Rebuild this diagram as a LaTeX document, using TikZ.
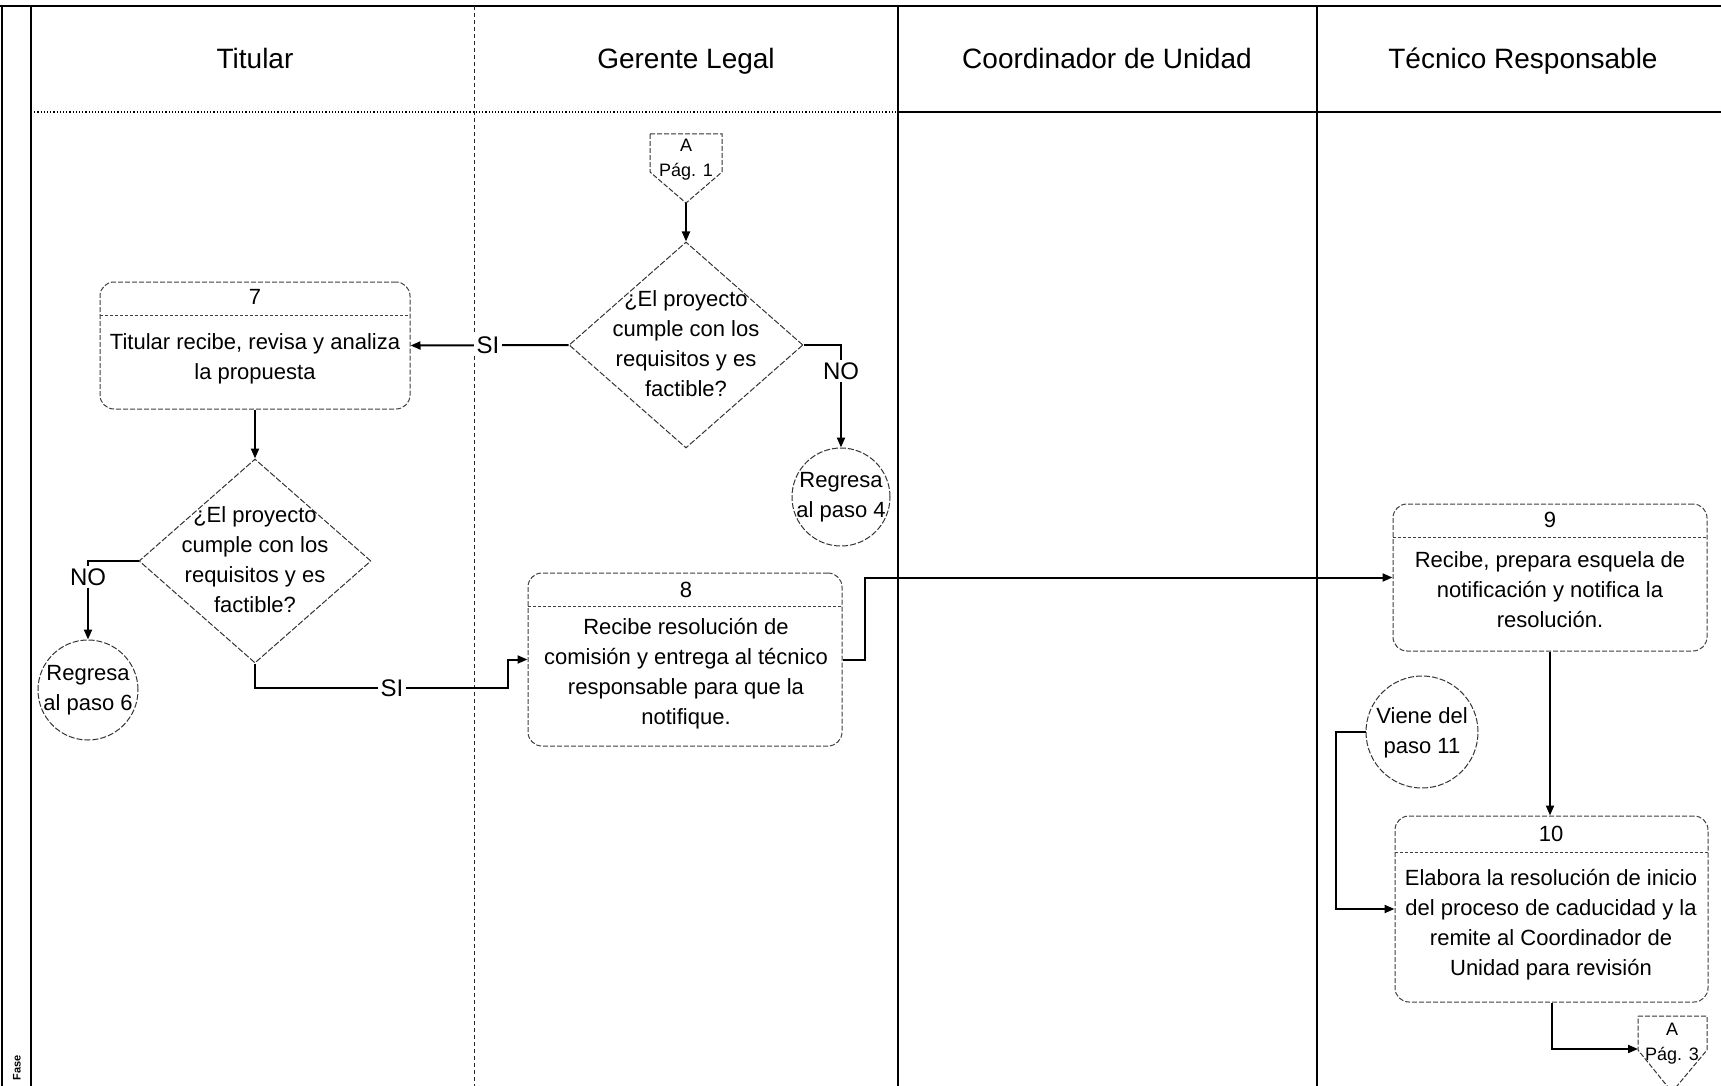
\documentclass[tikz,border=0pt]{standalone}
\usepackage{fontspec}
\setmainfont{Liberation Sans}
\usetikzlibrary{shapes.geometric,arrows.meta,fit}

\begin{document}
\begin{tikzpicture}[x=0.5pt,y=-0.5pt,
  lane/.style={line width=0.6pt},
  frameline/.style={line width=1.4pt},
  stepbox/.style={draw=black!75, dash pattern=on 2.5pt off 1pt, line width=0.5pt, rounded corners=7pt, inner sep=0pt},
  sepline/.style={draw=black!75, dash pattern=on 1.5pt off 1pt, line width=0.5pt},
  decision/.style={diamond, draw=black!80, dash pattern=on 3pt off 1pt, line width=0.5pt, inner sep=0pt},
  refcircle/.style={circle, draw=black!80, dash pattern=on 3pt off 1pt, line width=0.5pt, inner sep=0pt},
  offpage/.style={draw=black!80, dash pattern=on 2.5pt off 1pt, line width=0.5pt},
  txt/.style={font=\fontsize{11}{15}\selectfont, align=center, inner sep=0pt},
  small/.style={font=\fontsize{9}{12.5}\selectfont, align=center, inner sep=0pt},
  head/.style={font=\fontsize{14}{17}\selectfont, text height=10pt, text depth=3pt, inner sep=0pt},
  flow/.style={line width=1pt, -{Triangle[length=5pt,width=4pt]}},
  lbl/.style={fill=white, font=\fontsize{12}{14}\selectfont, inner sep=1.5pt}
]
\clip (0,0) rectangle (1721,1086);
\fill[white] (0,0) rectangle (1721,1086);

% ---- swimlane frame ----
\draw[frameline] (0,6) -- (527,6);
\draw[lane] (527,6) -- (1721,6);
\draw[line width=1pt] (2,6) -- (2,1086);
\draw[frameline] (31,6) -- (31,1086);
\draw[line width=0.45pt, dash pattern=on 2pt off 1.5pt, black!85] (474,6) -- (474,1086);
\draw[lane] (898,6) -- (898,1086);
\draw[lane] (1317,6) -- (1317,1086);
\draw[lane, densely dotted] (31,112) -- (898,112);
\draw[frameline] (898,112) -- (1721,112);

\node[head] (hTit) at (255,62) {Titular};
\node[head] (hGer) at (686,62) {Gerente Legal};
\node[head] (hCoo) at (1107,62) {Coordinador de Unidad};
\node[head] (hTec) at (1523,62) {Técnico Responsable};
\node[rotate=90, font=\bfseries\fontsize{5.5}{6}\selectfont, inner sep=0pt] (fase) at (17,1068) {Fase};

% ---- off-page connector A / Pag. 1 ----
\draw[offpage] (650,134) -- (722,134) -- (722,172) -- (686,203) -- (650,172) -- cycle;
\coordinate (op1) at (686,203);
\node[small] (op1txt) at (686,160) {A\\Pág. 1};

% ---- decision 1 (Gerente Legal) ----
\node[decision, minimum width=117pt, minimum height=103pt] (d1) at (686,345) {};
\node[txt] (d1txt) at (686,344) {¿El proyecto\\cumple con los\\requisitos y es\\factible?};

% ---- step 7 ----
\node[stepbox, fit={(100,282) (410,409)}] (b7) {};
\draw[sepline] (100,315) -- (410,315);
\node[txt] (n7) at (255,297) {7};
\node[txt] (b7txt) at (255,359) {Titular recibe, revisa y analiza\\la propuesta};

% ---- return circle to step 4 ----
\node[refcircle, minimum size=49pt] (c4) at (841,497) {};
\node[txt] (c4txt) at (841,497) {Regresa\\al paso 4};

% ---- decision 2 (Titular) ----
\node[decision, minimum width=116pt, minimum height=102pt] (d2) at (255,561) {};
\node[txt] (d2txt) at (255,560) {¿El proyecto\\cumple con los\\requisitos y es\\factible?};

% ---- return circle to step 6 ----
\node[refcircle, minimum size=50pt] (c6) at (88,690) {};
\node[txt] (c6txt) at (88,690) {Regresa\\al paso 6};

% ---- step 8 ----
\node[stepbox, fit={(528,573) (842,746)}] (b8) {};
\draw[sepline] (528,606) -- (842,606);
\node[txt] (n8) at (686,590) {8};
\node[txt] (b8txt) at (686,674) {Recibe resolución de\\comisión y entrega al técnico\\responsable para que la\\notifique.};

% ---- step 9 ----
\node[stepbox, fit={(1393,504) (1707,651)}] (b9) {};
\draw[sepline] (1393,537) -- (1707,537);
\node[txt] (n9) at (1550,520) {9};
\node[txt] (b9txt) at (1550,590) {Recibe, prepara esquela de\\notificación y notifica la\\resolución.};

% ---- incoming circle from step 11 ----
\node[refcircle, minimum size=56pt] (c11) at (1422,732) {};
\node[txt] (c11txt) at (1422,733) {Viene del\\paso 11};

% ---- step 10 ----
\node[stepbox, fit={(1395,816) (1708,1002)}] (b10) {};
\draw[sepline] (1395,852) -- (1708,852);
\node[txt] (n10) at (1551,834) {10};
\node[txt] (b10txt) at (1551,925) {Elabora la resolución de inicio\\del proceso de caducidad y la\\remite al Coordinador de\\Unidad para revisión};

% ---- off-page connector A / Pag. 3 ----
\draw[offpage] (1638,1016) -- (1707,1016) -- (1707,1050) -- (1672,1092) -- (1638,1050) -- cycle;
\coordinate (op3) at (1638,1049);
\node[small] (op3txt) at (1672,1044) {A\\Pág. 3};

% ---- connectors ----
\draw[flow] (op1) -- (d1.north);
\draw[flow] (d1.west) -- (b7.east);
\node[lbl] (si1) at (488,345) {SI};
\draw[flow] (d1.east) -| (c4.north);
\node[lbl] (no1) at (841,371) {NO};
\draw[flow] (b7.south) -- (d2.north);
\draw[flow] (d2.west) -| (c6.north);
\node[lbl] (no2) at (88,577) {NO};
\coordinate (j1) at (508,688);
\draw[flow] (d2.south) |- (j1) |- (b8.west);
\node[lbl] (si2) at (392,688) {SI};
\draw[flow] (b8.east) -- ++(22,0) |- (b9.west);
\draw[flow] (b9.south) -- (b9.south |- b10.north);
\draw[flow] (c11.west) -- ++(-30,0) |- (b10.west);
\draw[flow] (b10.south) |- (op3);
\end{tikzpicture}
\end{document}
